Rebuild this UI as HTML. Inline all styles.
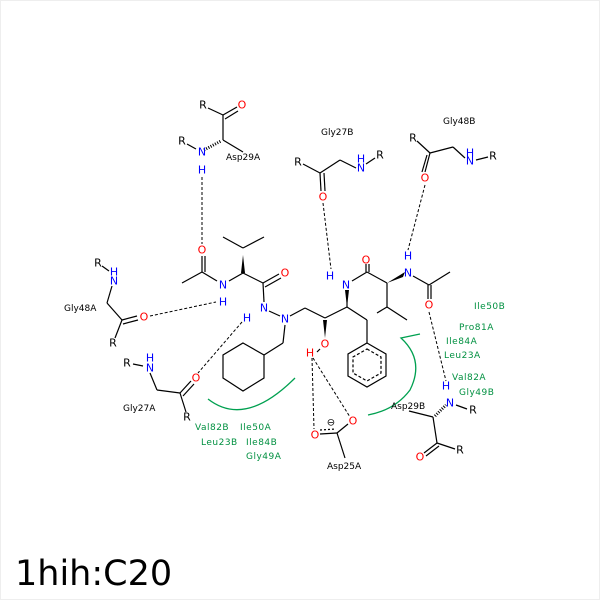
<!DOCTYPE html>
<html><head><meta charset="utf-8"><style>
html,body{margin:0;padding:0;background:#fff}
svg{display:block}
text{font-family:"DejaVu Sans","Liberation Sans",sans-serif}
.a{font-size:11px;text-anchor:middle;dominant-baseline:central}
.l{font-size:9px;fill:#000;dominant-baseline:central}
.g{font-size:9px;fill:#009040;dominant-baseline:central;letter-spacing:0.5px}
.N{fill:#0000ff}.O{fill:#ff0000}
</style></head><body>
<svg width="600" height="600" viewBox="0 0 600 600" xmlns="http://www.w3.org/2000/svg">
<rect x="0.5" y="0.5" width="599" height="599" fill="#fff" stroke="#eee"/>
<g stroke="#000" stroke-width="1.2" fill="none">
<!-- Asp29A -->
<line x1="208" y1="108" x2="223" y2="115"/><line x1="223" y1="115" x2="237" y2="107"/><line x1="225" y1="119" x2="238" y2="111"/>
<line x1="223" y1="115" x2="223" y2="140"/><line x1="223" y1="140" x2="243" y2="152"/>
<line x1="187" y1="144" x2="196" y2="149"/>
<!-- acetyl/valine left -->
<line x1="182" y1="283" x2="202" y2="272"/><line x1="202" y1="272" x2="202" y2="256"/><line x1="205" y1="272" x2="205" y2="256"/>
<line x1="202" y1="272" x2="217" y2="281"/><line x1="229" y1="281" x2="243" y2="273"/>
<line x1="243" y1="248" x2="223" y2="237"/><line x1="243" y1="248" x2="264" y2="237"/>
<line x1="243" y1="273" x2="263" y2="283"/><line x1="263" y1="283" x2="279" y2="274"/><line x1="265" y1="287" x2="281" y2="278"/>
<line x1="263" y1="283" x2="264" y2="302"/><line x1="269" y1="311" x2="280" y2="316"/>
<!-- Gly48A -->
<line x1="102" y1="266" x2="109" y2="271"/><line x1="112" y1="286" x2="107" y2="303"/><line x1="107" y1="303" x2="122" y2="320"/>
<line x1="122" y1="320" x2="137" y2="316"/><line x1="123" y1="324" x2="138" y2="320"/><line x1="122" y1="320" x2="115" y2="338"/>
<!-- Gly27A -->
<line x1="133" y1="364" x2="143" y2="366"/><line x1="150" y1="373" x2="157" y2="390"/><line x1="157" y1="390" x2="180" y2="393"/>
<line x1="180" y1="393" x2="191" y2="381"/><line x1="183" y1="396" x2="194" y2="384"/><line x1="180" y1="393" x2="186" y2="412"/>
<!-- hydrazine/chain -->
<line x1="290" y1="316" x2="305" y2="308"/><line x1="305" y1="308" x2="325" y2="318"/><line x1="325" y1="318" x2="347" y2="307"/>
<line x1="347" y1="307" x2="367" y2="320"/><line x1="367" y1="320" x2="367" y2="343"/>
<line x1="285" y1="325" x2="283" y2="343"/><line x1="283" y1="343" x2="264" y2="355"/>
<polygon points="243,343 264,355 264,378 243,391 223,378 223,355"/>
<!-- benzene -->
<polygon points="367,343 386,354 386,376 367,387 348,376 348,354"/>
<polygon points="367,349 381,357 381,373 367,381 353,373 353,357" stroke-dasharray="3,2"/>
<!-- right valine -->
<line x1="347" y1="291" x2="347" y2="307"/>
<line x1="352" y1="281" x2="367" y2="272"/><line x1="366" y1="272" x2="366" y2="264"/><line x1="369" y1="272" x2="369" y2="264"/>
<line x1="367" y1="272" x2="387" y2="283"/><line x1="387" y1="283" x2="387" y2="307"/>
<line x1="387" y1="307" x2="377" y2="313"/><line x1="387" y1="307" x2="407" y2="320"/>
<line x1="413" y1="276" x2="429" y2="285"/><line x1="429" y1="285" x2="450" y2="272"/>
<line x1="428" y1="285" x2="428" y2="299"/><line x1="431" y1="285" x2="431" y2="299"/>
<!-- Gly27B -->
<line x1="303" y1="164" x2="320" y2="173"/><line x1="320" y1="173" x2="340" y2="160"/><line x1="340" y1="160" x2="356" y2="168"/>
<line x1="366" y1="164" x2="375" y2="158"/>
<line x1="320" y1="173" x2="321" y2="191"/><line x1="324" y1="173" x2="325" y2="191"/>
<!-- Gly48B -->
<line x1="417" y1="141" x2="430" y2="153"/><line x1="430" y1="153" x2="453" y2="147"/><line x1="453" y1="147" x2="465" y2="158"/>
<line x1="476" y1="160" x2="488" y2="157"/>
<line x1="430" y1="153" x2="425" y2="172"/><line x1="427" y1="155" x2="422" y2="172"/>
<!-- Asp29B -->
<line x1="409" y1="411" x2="433" y2="417"/><line x1="433" y1="417" x2="437" y2="443"/>
<line x1="437" y1="443" x2="424" y2="453"/><line x1="439" y1="446" x2="426" y2="456"/><line x1="437" y1="443" x2="455" y2="449"/>
<line x1="456" y1="405" x2="467" y2="409"/>
<!-- Asp25A -->
<line x1="337" y1="433" x2="345" y2="458"/><line x1="337" y1="433" x2="320" y2="434"/><line x1="337" y1="433" x2="348" y2="424"/>
<line x1="320" y1="430" x2="336" y2="429" stroke-dasharray="2,2"/>
<line x1="317" y1="352" x2="320" y2="349"/>
</g>
<!-- wedges -->
<polygon points="241,273 245,273 243,255" fill="#000"/>
<polygon points="387,283 405,272 403,277" fill="#000"/>
<polygon points="345,290 349,290 347,307" fill="#000"/>
<polygon points="323,320 327,320 325,338" fill="#000"/>
<g stroke="#000" stroke-width="1">
<line x1="204" y1="150" x2="221" y2="141" stroke-dasharray="1,1.5" stroke-width="3"/>
<line x1="435" y1="416" x2="446" y2="405" stroke-dasharray="1,1.5" stroke-width="3"/>
</g>
<!-- H-bonds -->
<g stroke="#000" stroke-width="1" stroke-dasharray="3,2" fill="none">
<line x1="202" y1="177" x2="202" y2="244"/>
<line x1="150" y1="316" x2="216" y2="302"/>
<line x1="242" y1="322" x2="198" y2="373"/>
<line x1="323" y1="203" x2="331" y2="269"/>
<line x1="425" y1="185" x2="408" y2="250"/>
<line x1="429" y1="312" x2="446" y2="381"/>
<line x1="312" y1="358" x2="314" y2="429"/>
<line x1="313" y1="358" x2="350" y2="417"/>
</g>
<!-- green arcs -->
<g stroke="#00a050" stroke-width="1.3" fill="none">
<path d="M208,399 Q245,428 295,378"/>
<path d="M420,334 L401,338 Q425,360 410,390 Q395,410 368,415"/>
</g>
<!-- atom labels -->
<g class="a">
<text x="203" y="105">R</text><text x="242" y="105" class="O">O</text>
<text x="182" y="141">R</text><text x="202" y="152" class="N">N</text><text x="202" y="170" class="N">H</text>
<text x="202" y="250" class="O">O</text><text x="223" y="285" class="N">N</text><text x="223" y="302" class="N">H</text>
<text x="285" y="273" class="O">O</text><text x="264" y="308" class="N">N</text><text x="247" y="318" class="N">H</text>
<text x="285" y="319" class="N">N</text>
<text x="98" y="263">R</text><text x="114" y="272" class="N">H</text><text x="114" y="281" class="N">N</text>
<text x="144" y="317" class="O">O</text><text x="113" y="343">R</text>
<text x="127" y="363">R</text><text x="150" y="358" class="N">H</text><text x="150" y="368" class="N">N</text>
<text x="196" y="378" class="O">O</text><text x="187" y="417">R</text>
<text x="298" y="162">R</text><text x="323" y="197" class="O">O</text>
<text x="361" y="159" class="N">H</text><text x="361" y="168" class="N">N</text><text x="380" y="155">R</text>
<text x="413" y="138">R</text><text x="425" y="178" class="O">O</text>
<text x="470" y="153" class="N">H</text><text x="470" y="161" class="N">N</text><text x="493" y="156">R</text>
<text x="330" y="276" class="N">H</text><text x="346" y="285" class="N">N</text><text x="366" y="260" class="O">O</text>
<text x="408" y="256" class="N">H</text><text x="408" y="273" class="N">N</text><text x="429" y="305" class="O">O</text>
<text x="325" y="344" class="O">O</text><text x="310" y="353" class="O">H</text>
<text x="315" y="435" class="O">O</text><text x="353" y="421" class="O">O</text>
<text x="331" y="423" style="font-size:10px">⊖</text>
<text x="446" y="386" class="N">H</text><text x="450" y="403" class="N">N</text><text x="473" y="410">R</text>
<text x="420" y="457" class="O">O</text><text x="460" y="450">R</text>
</g>
<g class="l">
<text x="226" y="158">Asp29A</text><text x="64" y="309">Gly48A</text><text x="123" y="409">Gly27A</text>
<text x="321" y="133">Gly27B</text><text x="443" y="122">Gly48B</text>
<text x="391" y="407">Asp29B</text><text x="327" y="467">Asp25A</text>
</g>
<g class="g">
<text x="195" y="428">Val82B</text><text x="240" y="428">Ile50A</text>
<text x="201" y="443">Leu23B</text><text x="246" y="443">Ile84B</text><text x="246" y="457">Gly49A</text>
<text x="474" y="307">Ile50B</text><text x="459" y="328">Pro81A</text><text x="446" y="342">Ile84A</text>
<text x="444" y="356">Leu23A</text><text x="452" y="378">Val82A</text><text x="459" y="393">Gly49B</text>
</g>
<text x="15" y="585" style="font-size:35px" fill="#000">1hih:C20</text>
</svg>
</body></html>
